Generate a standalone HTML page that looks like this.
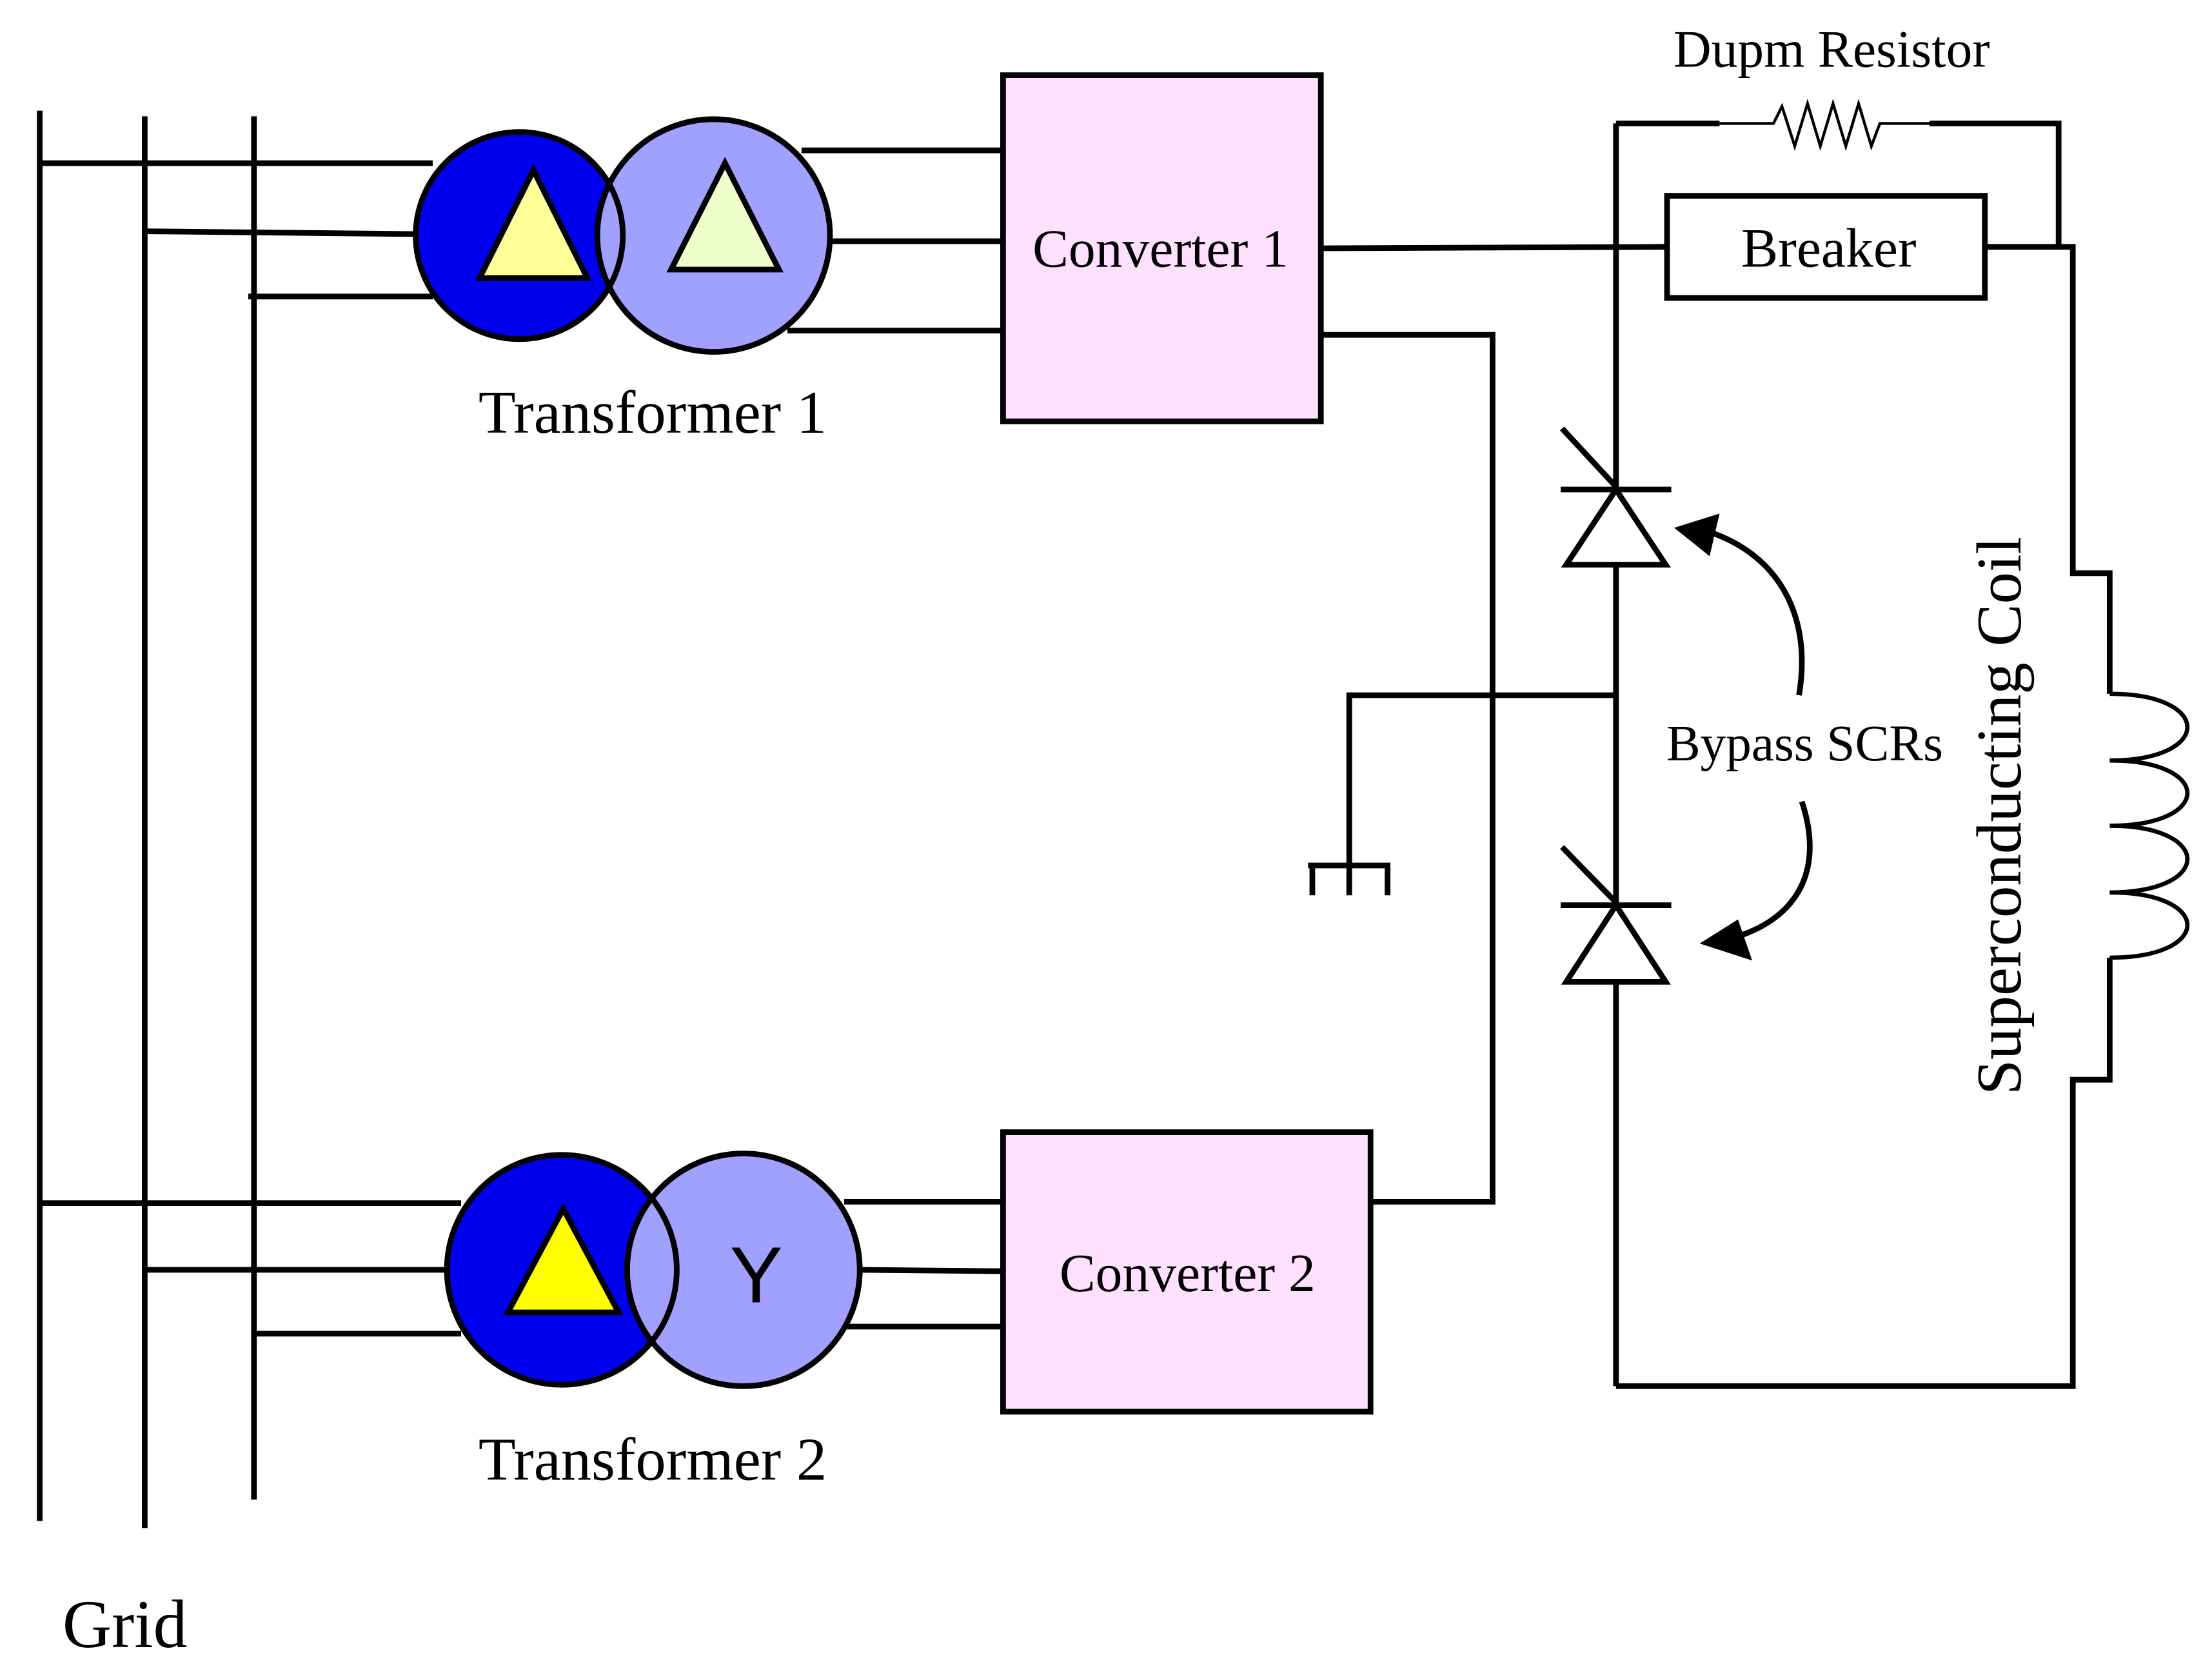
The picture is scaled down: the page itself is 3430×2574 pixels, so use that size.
<!DOCTYPE html>
<html><head><meta charset="utf-8"><style>html,body{margin:0;padding:0;background:#fff}svg{display:block}</style></head>
<body>
<svg width="3430" height="2574" viewBox="0 0 1559.1 1170" xmlns="http://www.w3.org/2000/svg" font-family="Liberation Serif, serif">
<rect width="1559.1" height="1170" fill="#fff"/>
<g stroke="#000" stroke-width="4" fill="none">
<line x1="28" y1="78" x2="28" y2="1072"/>
<line x1="102" y1="82" x2="102" y2="1077"/>
<line x1="179" y1="82" x2="179" y2="1057"/>
<line x1="28" y1="115" x2="305" y2="115"/>
<line x1="102" y1="163" x2="295" y2="165"/>
<line x1="175" y1="209" x2="305" y2="209"/>
<line x1="565" y1="106" x2="707" y2="106"/>
<line x1="585" y1="170" x2="707" y2="170"/>
<line x1="555" y1="233" x2="707" y2="233"/>
<line x1="28" y1="848" x2="325" y2="848"/>
<line x1="102" y1="895" x2="315" y2="895"/>
<line x1="179" y1="940" x2="325" y2="940"/>
<line x1="595" y1="847" x2="707" y2="847"/>
<line x1="605" y1="895" x2="707" y2="896"/>
<line x1="595" y1="935" x2="707" y2="935"/>
</g>
<circle cx="366" cy="166" r="73" fill="#0000ee"/>
<circle cx="503" cy="166" r="82" fill="#a0a0ff"/>
<circle cx="366" cy="166" r="73" fill="none" stroke="#000" stroke-width="4"/>
<circle cx="503" cy="166" r="82" fill="none" stroke="#000" stroke-width="4"/>
<polygon points="376,120 338,196 414,196" fill="#ffff99" stroke="#000" stroke-width="4"/>
<polygon points="511,115 473,190 549,190" fill="#eeffcc" stroke="#000" stroke-width="4"/>
<circle cx="396" cy="895" r="81" fill="#0000ee"/>
<circle cx="524" cy="895" r="82" fill="#a0a0ff"/>
<circle cx="396" cy="895" r="81" fill="none" stroke="#000" stroke-width="4"/>
<circle cx="524" cy="895" r="82" fill="none" stroke="#000" stroke-width="4"/>
<polygon points="397,852 358,925 436,925" fill="#ffff00" stroke="#000" stroke-width="4"/>
<text x="533" y="918" font-family="Liberation Sans, sans-serif" font-size="56" text-anchor="middle">Y</text>
<rect x="707" y="53" width="224" height="244" fill="#ffe0ff" stroke="#000" stroke-width="4"/>
<text x="818" y="188" font-size="38" text-anchor="middle">Converter 1</text>
<rect x="707" y="798" width="259" height="197" fill="#ffe0ff" stroke="#000" stroke-width="4"/>
<text x="837" y="910" font-size="38" text-anchor="middle">Converter 2</text>
<text x="460" y="305" font-size="43" text-anchor="middle">Transformer 1</text>
<text x="460" y="1043" font-size="43" text-anchor="middle">Transformer 2</text>
<text x="88" y="1161" font-size="48" text-anchor="middle">Grid</text>
<g stroke="#000" stroke-width="4" fill="none">
<line x1="931" y1="175" x2="1175" y2="174"/>
<polyline points="931,236 1052,236 1052,847 967,847"/>
<line x1="1139" y1="87" x2="1139" y2="977"/>
<polyline points="1139,87 1212,87"/>
<polyline points="1360,87 1451,87 1451,174"/>
<polyline points="1399,174 1461,174 1461,404 1487,404 1487,489"/>
<polyline points="1487,675 1487,761 1461,761 1461,977 1139,977"/>
<polyline points="1139,490 951,490 951,610"/>
<line x1="922" y1="610" x2="980" y2="610"/>
<line x1="925" y1="610" x2="925" y2="631"/>
<line x1="951" y1="610" x2="951" y2="631"/>
<line x1="978" y1="610" x2="978" y2="631"/>
</g>
<polyline points="1212,87 1250,87 1256,75 1265,103 1274,73 1283,103 1292,73 1301,103 1310,73 1319,103 1325,87 1360,87" fill="none" stroke="#000" stroke-width="2"/>
<rect x="1175" y="138" width="224" height="72" fill="#fff" stroke="#000" stroke-width="4"/>
<text x="1289" y="188" font-size="39" text-anchor="middle">Breaker</text>
<text x="1291" y="47" font-size="37" text-anchor="middle">Dupm Resistor</text>
<path d="M1487,489 C1560,489 1560,536 1487,536 C1560,536 1560,582 1487,582 C1560,582 1560,629 1487,629 C1560,629 1560,675 1487,675" fill="none" stroke="#000" stroke-width="3"/>
<text transform="translate(1424,575) rotate(-90)" font-size="45" text-anchor="middle">Superconducting Coil</text>
<g stroke="#000" stroke-width="4" fill="#fff">
<polygon points="1139,345 1104,398 1174,398"/>
<line x1="1100" y1="345" x2="1178" y2="345"/>
<line x1="1101" y1="302" x2="1139" y2="343"/>
<polygon points="1139,638 1104,692 1174,692"/>
<line x1="1100" y1="638" x2="1178" y2="638"/>
<line x1="1101" y1="597" x2="1139" y2="636"/>
</g>
<text x="1272" y="536" font-size="36" text-anchor="middle">Bypass SCRs</text>
<g stroke="#000" stroke-width="4" fill="none">
<path d="M1268,490 C1278,430 1250,390 1205,375"/>
<path d="M1270,565 C1285,610 1270,645 1225,660"/>
</g>
<polygon points="1180,372 1212,362 1205,392" fill="#000"/>
<polygon points="1198,665 1225,648 1235,677" fill="#000"/>
</svg>
</body></html>
